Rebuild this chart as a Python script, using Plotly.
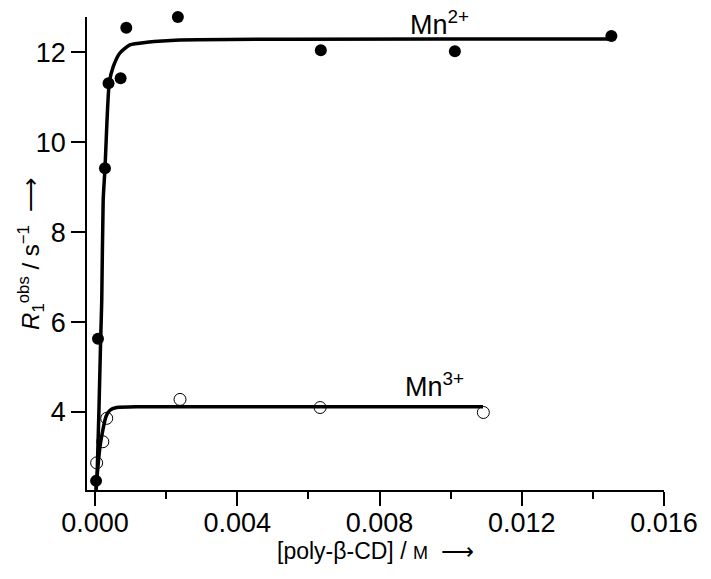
import plotly.graph_objects as go

mn2_x = [0.00003, 0.000084, 0.00028, 0.00038, 0.00072, 0.00088, 0.00233, 0.00635, 0.01012, 0.01452]
mn2_y = [2.47, 5.63, 9.42, 11.31, 11.42, 12.54, 12.78, 12.04, 12.02, 12.36]

mn3_x = [0.000047, 0.00022, 0.00033, 0.00239, 0.00633, 0.01092]
mn3_y = [2.87, 3.34, 3.86, 4.28, 4.10, 3.99]

# Fitted curves
fit2_x = [0.00003, 0.000056, 0.00016, 0.00019, 0.00023, 0.00028, 0.00040, 0.00051, 0.00070, 0.00098, 0.00146, 0.00239, 0.01451]
fit2_y = [2.27, 2.49, 5.64, 6.49, 8.71, 9.40, 11.31, 11.67, 11.98, 12.16, 12.22, 12.27, 12.29]

fit3_x = [0.00003, 0.00005, 0.00014, 0.00022, 0.00031, 0.00042, 0.00061, 0.00127, 0.01091]
fit3_y = [2.27, 2.49, 3.23, 3.60, 3.90, 4.04, 4.10, 4.12, 4.12]

x_ticks = [0.000, 0.004, 0.008, 0.012, 0.016]
x_ticklabels = ["0.000", "0.004", "0.008", "0.012", "0.016"]
y_ticks = [4, 6, 8, 10, 12]

FONT = "Liberation Sans, Arial, sans-serif"

fig = go.Figure()
fig.add_trace(go.Scatter(x=fit2_x, y=fit2_y, mode="lines",
                         line=dict(color="black", width=3.5, shape="spline", smoothing=0.6),
                         showlegend=False, hoverinfo="skip", cliponaxis=False))
fig.add_trace(go.Scatter(x=fit3_x, y=fit3_y, mode="lines",
                         line=dict(color="black", width=3.5, shape="spline", smoothing=0.6),
                         showlegend=False, hoverinfo="skip", cliponaxis=False))
fig.add_trace(go.Scatter(x=mn3_x, y=mn3_y, mode="markers",
                         marker=dict(symbol="circle-open", size=12, color="black", line=dict(width=1)),
                         showlegend=False, cliponaxis=False))
fig.add_trace(go.Scatter(x=mn2_x, y=mn2_y, mode="markers",
                         marker=dict(symbol="circle", size=12, color="black"),
                         showlegend=False, cliponaxis=False))

fig.add_annotation(x=0.0097, y=12.65, text="Mn<sup>2+</sup>", showarrow=False,
                   font=dict(family=FONT, size=27, color="black"), xanchor="center", yanchor="middle",
                   borderpad=0)
fig.add_annotation(x=0.00955, y=4.6, text="Mn<sup>3+</sup>", showarrow=False,
                   font=dict(family=FONT, size=27, color="black"), xanchor="center", yanchor="middle",
                   borderpad=0)

# axis titles as annotations for precise placement
fig.add_annotation(xref="paper", yref="paper", x=0.5, y=-0.13,
                   text="[poly-β-CD] / <span style='font-size:18px'>M</span>  ⟶",
                   showarrow=False, font=dict(family=FONT, size=23, color="black"),
                   xanchor="center", yanchor="middle")
fig.add_annotation(xref="paper", yref="paper", x=-0.098, y=0.5, textangle=-90,
                   text="<i>R</i><sub>1</sub><sup>obs</sup> / s<sup>−1</sup>  ⟶",
                   showarrow=False, font=dict(family=FONT, size=24, color="black"),
                   xanchor="center", yanchor="middle")

fig.update_layout(
    width=703, height=571,
    margin=dict(l=79, r=47, t=9, b=89),
    paper_bgcolor="white", plot_bgcolor="white",
    font=dict(family=FONT, color="black"),
    xaxis=dict(range=[-0.000225, 0.016], showline=True, linecolor="black", linewidth=1.5,
               showgrid=False, zeroline=False, ticks="outside", ticklen=14, tickwidth=1.5,
               tickcolor="black", tickvals=x_ticks, ticktext=x_ticklabels,
               tickfont=dict(size=27, color="black"), automargin=False,
               ticklabelstandoff=-6,
               minor=dict(dtick=0.002, tick0=0, ticks="outside", ticklen=7, tickwidth=1.5, tickcolor="black")),
    yaxis=dict(range=[2.267, 12.78], showline=True, linecolor="black", linewidth=1.5,
               showgrid=False, zeroline=False, ticks="outside", ticklen=14, tickwidth=1.5,
               tickcolor="black", tickvals=y_ticks, tickfont=dict(size=27, color="black"),
               automargin=False),
)

fig.write_html("out.html")
